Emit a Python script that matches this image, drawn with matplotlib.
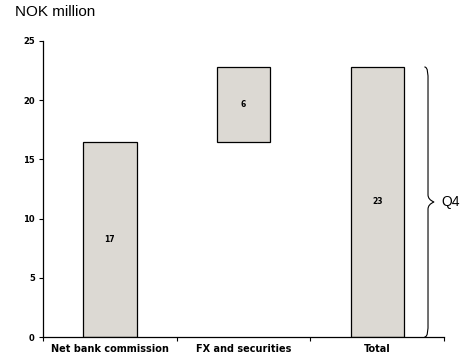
import matplotlib.pyplot as plt
from matplotlib.path import Path
from matplotlib.patches import PathPatch

plt.rcParams['font.family'] = ['Liberation Sans', 'DejaVu Sans']

categories = ['Net bank commission', 'FX and securities', 'Total']
heights = [16.5, 6.3, 22.8]
bottoms = [0, 16.5, 0]
value_labels = ['17', '6', '23']
yticks = [0, 5, 10, 15, 20, 25]

fig = plt.figure(figsize=(4.64, 3.62), dpi=100)
ax = fig.add_axes([0.093, 0.069, 0.864, 0.818])

xs = range(len(categories))
ax.bar(xs, heights, bottom=bottoms, width=0.4, color='#dcd9d3',
       edgecolor='black', linewidth=0.9, zorder=2)

for x, b, h, lab in zip(xs, bottoms, heights, value_labels):
    ax.text(x, b + h / 2, lab, ha='center', va='center',
            fontsize=5.5, fontweight='bold', family='DejaVu Sans')

ax.set_xlim(-0.5, 2.5)
ax.set_ylim(0, 25)
ax.set_yticks(yticks)
ax.set_yticklabels([str(t) for t in yticks], fontsize=6,
                   fontweight='bold', family='DejaVu Sans')

# boundaries get the tick marks, centres get the labels
ax.set_xticks([-0.5, 0.5, 1.5, 2.5])
ax.set_xticklabels([])
ax.set_xticks(list(xs), minor=True)
ax.set_xticklabels(categories, minor=True, fontsize=7,
                   fontweight='bold', family='DejaVu Sans')
ax.tick_params(axis='x', which='major', length=3, width=0.8, direction='out')
ax.tick_params(axis='x', which='minor', length=0, pad=5)
ax.tick_params(axis='y', length=3, width=0.8, direction='out', pad=3)

for s in ['top', 'right']:
    ax.spines[s].set_visible(False)
for s in ['left', 'bottom']:
    ax.spines[s].set_linewidth(0.9)


def curly_brace(ax, x, y0, y1, w=0.045):
    ym = (y0 + y1) / 2
    dy = 0.6
    verts = [
        (x - w * 0.6, y1), (x, y1), (x, y1 - dy), (x, y1 - 2 * dy),
        (x, ym + dy), (x, ym + 0.2), (x + w, ym),
        (x, ym - 0.2), (x, ym - dy), (x, y0 + 2 * dy),
        (x, y0 + dy), (x, y0), (x - w * 0.6, y0),
    ]
    codes = [Path.MOVETO,
             Path.CURVE4, Path.CURVE4, Path.CURVE4,
             Path.LINETO, Path.CURVE3, Path.CURVE3,
             Path.CURVE3, Path.CURVE3, Path.LINETO,
             Path.CURVE4, Path.CURVE4, Path.CURVE4]
    ax.add_patch(PathPatch(Path(verts, codes), fill=False, lw=0.8,
                           edgecolor='black', clip_on=False))


curly_brace(ax, 2.38, 0, heights[2])
ax.text(2.48, heights[2] / 2, 'Q4', ha='left', va='center', fontsize=10)

fig.text(0.032, 0.985, 'NOK million', ha='left', va='top', fontsize=11)

fig.savefig('out.png', dpi=100)
